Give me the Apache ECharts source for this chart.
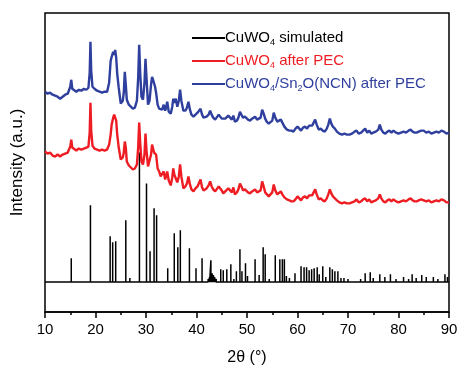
<!DOCTYPE html>
<html>
<head>
<meta charset="utf-8">
<script src="https://cdn.jsdelivr.net/npm/echarts@6/dist/echarts.min.js"></script>
<style>
  html, body { margin: 0; padding: 0; background: #fff; }
  #xrd { width: 459px; height: 367px; }
</style>
</head>
<body>
<div id="xrd"></div>
<script>
// series names
const seriesNames = ['CuWO4 simulated', 'CuWO4 after PEC', 'CuWO4/Sn2O(NCN) after PEC']

// measured patterns share the same 2θ grid
const thetaObs = [
  10.0, 10.5, 11.0, 11.5, 12.0, 12.5, 13.0, 13.5, 14.0, 14.5, 14.8, 15.0, 15.2, 15.4, 15.7,
  16.2, 16.7, 17.2, 17.7, 18.2, 18.6, 18.85, 19.0, 19.15, 19.4, 19.8, 20.3, 20.8, 21.3, 21.8,
  22.3, 22.7, 23.0, 23.2, 23.5, 23.7, 23.9, 24.1, 24.3, 24.6, 25.0, 25.4, 25.6, 25.8, 26.0,
  26.2, 26.6, 27.0, 27.4, 27.8, 28.2, 28.45, 28.65, 28.85, 29.1, 29.4, 29.7, 29.9, 30.1, 30.4,
  30.7, 31.0, 31.2, 31.4, 31.6, 31.8, 32.0, 32.3, 32.6, 32.9, 33.2, 33.5, 33.8, 34.0, 34.2,
  34.5, 34.9, 35.2, 35.4, 35.6, 35.9, 36.2, 36.5, 36.75, 37.0, 37.4, 37.8, 38.1, 38.4, 38.7,
  39.0, 39.4, 39.8, 40.2, 40.5, 40.8, 41.1, 41.4, 41.7, 42.0, 42.4, 42.7, 43.0, 43.3, 43.7,
  44.0, 44.4, 44.7, 45.0, 45.3, 45.7, 46.0, 46.3, 46.6, 47.0, 47.3, 47.6, 48.0, 48.3, 48.6,
  48.9, 49.2, 49.6, 49.9, 50.2, 50.6, 51.0, 51.3, 51.6, 52.0, 52.3, 52.7, 53.0, 53.3, 53.6,
  53.9, 54.3, 54.6, 55.0, 55.3, 55.6, 56.0, 56.3, 56.7, 57.0, 57.4, 57.9, 58.4, 58.8, 59.2,
  59.6, 60.0, 60.3, 60.7, 61.1, 61.5, 61.9, 62.3, 62.6, 62.9, 63.2, 63.5, 63.8, 64.2, 64.6,
  65.0, 65.4, 65.8, 66.1, 66.4, 66.7, 67.0, 67.4, 67.8, 68.3, 68.8, 69.3, 69.8, 70.3, 70.8,
  71.3, 71.7, 72.1, 72.6, 73.0, 73.4, 73.8, 74.2, 74.6, 75.0, 75.5, 76.0, 76.3, 76.6, 77.0,
  77.4, 77.8, 78.2, 78.6, 79.0, 79.5, 80.0, 80.5, 81.0, 81.5, 82.0, 82.4, 82.8, 83.2, 83.6,
  84.0, 84.5, 85.0, 85.5, 86.0, 86.5, 87.0, 87.5, 88.0, 88.5, 89.0, 89.5, 90.0
]
const redObs = [
  131, 129, 130, 127, 126, 128, 126, 128, 129, 130, 131, 136, 143, 135, 133,
  132, 134, 133, 134, 135, 136, 150, 180, 152, 137, 134, 133, 132, 133, 132,
  133, 138, 148, 158, 165, 168, 170, 162, 148, 135, 123, 125, 130, 141, 135,
  121, 117, 115, 113, 114, 118, 135, 160, 140, 121, 118, 128, 149, 132, 116,
  118, 128, 138, 136, 130, 132, 128, 114, 111, 106, 105, 111, 103, 104, 111,
  102, 97, 105, 114, 108, 108, 100, 106, 118, 106, 94, 96, 99, 106, 98,
  93, 91, 94, 96, 98, 103, 95, 92, 91, 94, 97, 101, 96, 93, 91,
  93, 96, 96, 92, 89, 91, 93, 94, 94, 90, 95, 88, 90, 93, 99,
  96, 92, 93, 95, 90, 89, 91, 90, 93, 90, 88, 92, 101, 96, 90,
  88, 86, 85, 90, 98, 92, 88, 89, 91, 88, 85, 83, 82, 81, 81,
  83, 86, 84, 82, 85, 86, 84, 87, 89, 87, 90, 93, 88, 83, 84,
  82, 81, 84, 88, 93, 89, 86, 84, 82, 80, 79, 80, 79, 79, 80,
  81, 83, 80, 81, 83, 84, 81, 83, 80, 81, 82, 84, 88, 84, 81,
  80, 82, 83, 81, 83, 81, 80, 81, 82, 81, 83, 84, 82, 81, 81,
  82, 83, 82, 81, 82, 80, 81, 82, 81, 83, 82, 80, 80
]
const blueObs = [
  191, 189, 190, 188, 187, 186, 184, 186, 188, 189, 190, 196, 203, 194, 193,
  191, 193, 192, 194, 193, 195, 210, 241, 212, 196, 194, 192, 191, 190, 191,
  191, 200, 222, 226, 231, 228, 233, 225, 209, 195, 179, 182, 190, 211, 198,
  183, 178, 176, 174, 175, 182, 205, 238, 210, 186, 183, 200, 224, 205, 178,
  182, 198, 206, 203, 203, 196, 190, 178, 174, 172, 173, 178, 172, 176, 181,
  171, 169, 176, 184, 180, 184, 176, 182, 193, 182, 172, 172, 175, 181, 173,
  168, 166, 168, 170, 172, 174, 168, 165, 164, 166, 168, 172, 168, 165, 163,
  165, 168, 168, 164, 162, 164, 166, 167, 167, 163, 167, 161, 162, 165, 171,
  169, 165, 166, 168, 163, 162, 164, 163, 166, 163, 161, 165, 173, 169, 164,
  161, 159, 158, 162, 170, 165, 161, 162, 163, 160, 156, 153, 152, 152, 151,
  154, 156, 154, 152, 155, 156, 154, 157, 159, 157, 160, 163, 158, 153, 154,
  152, 151, 154, 158, 164, 159, 156, 154, 151, 149, 148, 149, 148, 148, 149,
  151, 152, 149, 150, 152, 154, 150, 152, 149, 150, 151, 153, 158, 153, 150,
  149, 151, 152, 150, 152, 150, 149, 150, 151, 150, 152, 153, 151, 150, 150,
  151, 152, 152, 150, 151, 149, 150, 151, 150, 152, 151, 149, 150
]

// simulated reflections: position and stick height
const simTheta = [
  15.2, 19.0, 22.9, 23.4, 24.0, 26.0, 26.8, 28.7, 30.1, 30.8, 31.6, 32.1, 34.3, 35.6, 36.3,
  36.8, 38.6, 39.9, 41.1, 42.3, 42.6, 42.85, 43.1, 43.35, 43.6, 43.9, 44.8, 45.3, 46.0, 46.8,
  47.4, 47.9, 48.6, 49.0, 49.7, 50.1, 51.6, 52.4, 53.2, 53.6, 54.4, 55.6, 56.5, 57.0, 57.4,
  57.8, 58.4, 59.5, 60.7, 61.3, 61.8, 62.3, 62.8, 63.3, 63.9, 64.3, 65.0, 65.6, 66.4, 66.9,
  67.4, 68.0, 68.6, 69.2, 70.0, 72.5, 73.4, 74.4, 75.0, 76.3, 77.3, 78.4, 79.5, 81.0, 82.0,
  82.7, 83.5, 84.6, 85.5, 86.9, 87.8, 89.2, 89.7
]
const simHeight = [
  24, 77, 46, 40, 41, 62, 4, 130, 99, 31, 74, 67, 14, 49, 35,
  52, 34, 14, 24, 3, 5, 22, 9, 7, 5, 3, 13, 12, 13, 18,
  3, 11, 33, 11, 19, 6, 23, 7, 35, 28, 3, 27, 23, 23, 23,
  6, 4, 9, 16, 15, 15, 12, 13, 14, 15, 8, 16, 5, 15, 13,
  11, 11, 4, 4, 3, 3, 9, 10, 4, 8, 5, 8, 3, 5, 3,
  8, 4, 7, 5, 5, 3, 8, 5
]

const chart = echarts.init(document.getElementById('xrd'))

// sticks drawn as one polyline running along the zero line
const simLine = [[10, 0]]
simTheta.forEach((t, i) => {
  simLine.push([t, 0], [t, simHeight[i]], [t, 0])
})
simLine.push([90, 0])

const obs = (ys) => thetaObs.map((t, i) => [t, ys[i]])

const colors = ['#000000', '#ee1d23', '#2f3f9e']

chart.setOption({
  animation: false,
  grid: {
    left: 45, right: 10, top: 13, bottom: 55,
    outerBoundsMode: 'none',
    show: true, borderColor: '#000', borderWidth: 1.5
  },
  legend: {
    orient: 'vertical',
    left: 187,
    top: 24,
    icon: 'rect',
    itemWidth: 33,
    itemHeight: 2,
    itemGap: 5,
    data: seriesNames.map((n, i) => ({ name: n, textStyle: { color: colors[i] } })),
    formatter: (name) => {
      if (name === seriesNames[0]) return 'CuWO{sub|4} simulated'
      if (name === seriesNames[1]) return 'CuWO{sub|4} after PEC'
      return 'CuWO{sub|4}/Sn{sub|2}O(NCN) after PEC'
    },
    textStyle: {
      fontFamily: 'Liberation Sans',
      fontSize: 15,
      padding: [0, 0, 0, -5],
      rich: {
        sub: { fontSize: 9, lineHeight: 9, padding: [9, 0, 0, 0] }
      }
    }
  },
  xAxis: {
    type: 'value',
    min: 10,
    max: 90,
    interval: 10,
    name: '2θ (°)',
    nameLocation: 'middle',
    nameGap: 38,
    nameTextStyle: { fontFamily: 'Liberation Sans', fontSize: 16, color: '#000' },
    axisLine: { show: true, onZero: false, lineStyle: { color: '#000', width: 1.5 } },
    axisTick: { show: true, inside: false, length: 6, lineStyle: { color: '#000', width: 1.5 } },
    minorTick: { show: true, splitNumber: 2, length: 3, lineStyle: { color: '#000', width: 1.5 } },
    axisLabel: { fontFamily: 'Liberation Sans', fontSize: 15, color: '#000', margin: 10 },
    splitLine: { show: false }
  },
  yAxis: {
    type: 'value',
    min: -30,
    max: 270,
    name: 'Intensity (a.u.)',
    nameLocation: 'middle',
    nameGap: 19,
    nameTextStyle: { fontFamily: 'Liberation Sans', fontSize: 17, color: '#000' },
    axisLine: { show: false },
    axisTick: { show: false },
    axisLabel: { show: false },
    splitLine: { show: false }
  },
  series: [
    {
      name: seriesNames[0],
      type: 'line',
      data: simLine,
      symbol: 'none',
      lineStyle: { color: colors[0], width: 1.5 },
      itemStyle: { color: colors[0] }
    },
    {
      name: seriesNames[1],
      type: 'line',
      data: obs(redObs),
      symbol: 'none',
      lineStyle: { color: colors[1], width: 2.4 },
      itemStyle: { color: colors[1] }
    },
    {
      name: seriesNames[2],
      type: 'line',
      data: obs(blueObs),
      symbol: 'none',
      lineStyle: { color: colors[2], width: 2.4 },
      itemStyle: { color: colors[2] }
    }
  ]
})
</script>
</body>
</html>
